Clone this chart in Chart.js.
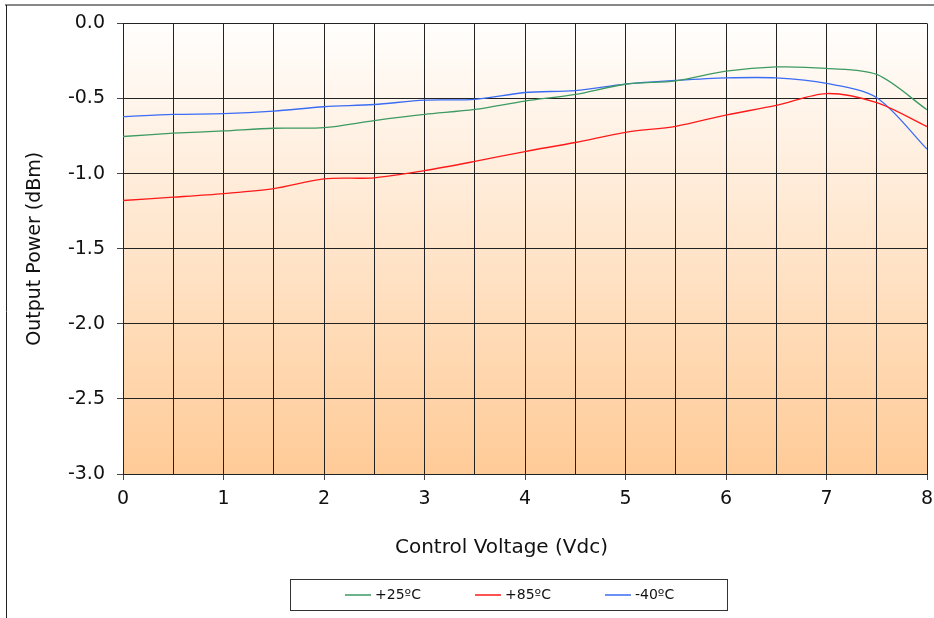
<!DOCTYPE html>
<html>
<head>
<meta charset="utf-8">
<script src="https://cdn.jsdelivr.net/npm/chart.js@4.4.1/dist/chart.umd.min.js"></script>
<style>
html,body{margin:0;padding:0;background:#fff}
</style>
</head>
<body>
<canvas id="chart" width="934" height="618"></canvas>
<script>

// Control voltage (Vdc)
const voltage = [0,0.5,1,1.5,2,2.5,3,3.5,4,4.5,5,5.5,6,6.5,7,7.5,8];

// Output power (dBm)
const p25 = [-0.753,-0.731,-0.716,-0.698,-0.694,-0.647,-0.606,-0.573,-0.517,-0.473,-0.405,-0.382,-0.318,-0.29,-0.30,-0.34,-0.575];
const p85 = [-1.179,-1.157,-1.133,-1.10,-1.035,-1.028,-0.98,-0.919,-0.853,-0.793,-0.725,-0.685,-0.61,-0.546,-0.467,-0.528,-0.687];
const m40 = [-0.621,-0.606,-0.601,-0.584,-0.555,-0.54,-0.511,-0.506,-0.46,-0.447,-0.404,-0.38,-0.363,-0.363,-0.40,-0.495,-0.837];

const seriesNames = ['+25ºC','+85ºC','-40ºC'];
const seriesColors = ['#3c9a62','#ff1a1a','#3a6cf4'];

const xTitle = 'Control Voltage (Vdc)';
const yTitle = 'Output Power (dBm)';

const FONT = 'DejaVu Sans, Verdana, sans-serif';

function pts(arr)
{
return voltage.map((v,i)=>({x:v,y:arr[i]}));
}

// background gradient + outer frame
const frame = {
id:'frame',
beforeDraw(chart)
{
const c = chart.ctx;
const a = chart.chartArea;
c.save();
c.fillStyle = '#fff';
c.fillRect(0,0,chart.width,chart.height);

const g = c.createLinearGradient(0,a.top,0,a.bottom);
g.addColorStop(0,'#fffefd');
g.addColorStop(1,'#ffcb97');
c.fillStyle = g;
c.fillRect(a.left,a.top,a.right-a.left,a.bottom-a.top);

c.strokeStyle = '#888';
c.lineWidth = 2;
c.beginPath();
c.moveTo(5,5);
c.lineTo(chart.width,5);
c.stroke();

c.strokeStyle = '#222';
c.lineWidth = 1;
c.beginPath();
c.moveTo(6.5,5);
c.lineTo(6.5,chart.height);
c.stroke();
c.restore();
}
};

// x title (sits left of the plot centre in the original) + boxed legend
const boxLegend = {
id:'boxLegend',
afterDraw(chart)
{
const c = chart.ctx;
c.save();
c.fillStyle = '#111';
c.font = '20px ' + FONT;
c.textAlign = 'center';
c.textBaseline = 'middle';
c.fillText(xTitle,501.5,548);

c.textAlign = 'left';
c.strokeStyle = '#333';
c.lineWidth = 1;
c.strokeRect(290.5,579.5,437,31);

c.font = '14px ' + FONT;
chart.data.datasets.forEach((ds,i)=>{
const x = 345 + i*130;
c.strokeStyle = seriesColors[i];
c.lineWidth = 1.5;
c.beginPath();
c.moveTo(x,595);
c.lineTo(x+26,595);
c.stroke();
c.fillStyle = '#111';
c.fillText(ds.label,x+30,595);
});
c.restore();
}
};

const ctx = document.getElementById('chart').getContext('2d');

const chart = new Chart(ctx,{
type:'line',
data:{
datasets:[
{label:seriesNames[0],data:pts(p25),borderColor:seriesColors[0]},
{label:seriesNames[1],data:pts(p85),borderColor:seriesColors[1]},
{label:seriesNames[2],data:pts(m40),borderColor:seriesColors[2]}
]
},
options:{
responsive:false,
animation:false,
layout:{padding:{left:0,right:7,top:22,bottom:0}},
elements:{
line:{borderWidth:1.3,tension:0.3,fill:false},
point:{radius:0}
},
plugins:{
legend:{display:false},
tooltip:{enabled:false}
},
scales:{
x:{
type:'linear',
min:0,
max:8,
afterFit(s){ s.height = 144; s.paddingLeft = 0; s.paddingRight = 0; },
ticks:{
stepSize:0.5,
autoSkip:false,
maxRotation:0,
padding:8,
color:'#111',
font:{family:FONT,size:19},
callback:v=>(v%1===0 ? String(v) : '')
},
grid:{
color:'#222',
lineWidth:1,
tickLength:6,
tickColor:c=>(c.tick && c.tick.value%1===0 ? '#444' : 'rgba(0,0,0,0)')
},
border:{color:'#222'},
title:{display:false}
},
y:{
min:-3,
max:0,
afterFit(s){ s.width = 123; },
ticks:{
stepSize:0.5,
padding:12,
color:'#111',
font:{family:FONT,size:19},
callback:v=>v.toFixed(1)
},
grid:{
color:'#222',
lineWidth:1,
tickLength:6,
tickColor:'#444'
},
border:{color:'#222'},
title:{
display:true,
text:yTitle,
color:'#111',
font:{family:FONT,size:19},
padding:{top:24,bottom:0}
}
}
}
},
plugins:[frame,boxLegend]
});

</script>
</body>
</html>
